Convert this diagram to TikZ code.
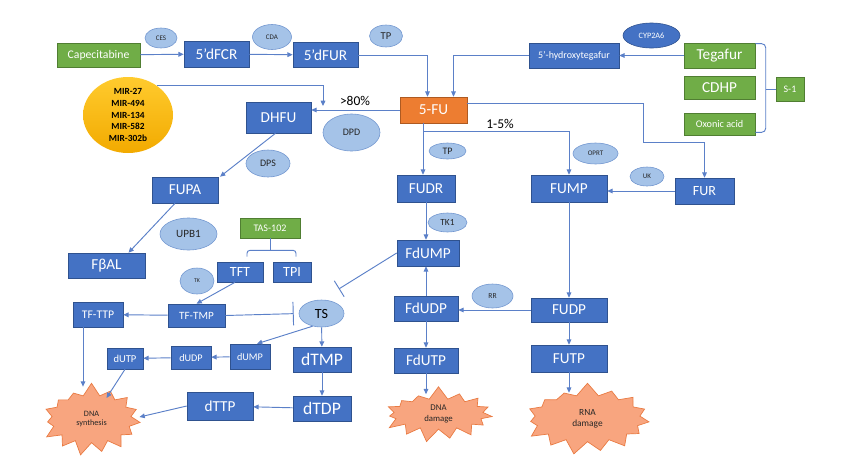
\documentclass[tikz,border=0pt]{standalone}
\usepackage{fontspec}
\setmainfont{Carlito}
\usetikzlibrary{arrows.meta,shapes.geometric,shapes.symbols,calc}
\definecolor{boxblue}{HTML}{4472C4}
\definecolor{boxedge}{HTML}{2F528F}
\definecolor{leafgreen}{HTML}{70AD47}
\definecolor{leafedge}{HTML}{507E32}
\definecolor{fuorange}{HTML}{ED7D31}
\definecolor{fuedge}{HTML}{AE5A21}
\definecolor{enzfill}{HTML}{A5C3E8}
\definecolor{enzedge}{HTML}{7397D0}
\definecolor{wireblue}{HTML}{5B80C8}
\definecolor{burstfill}{HTML}{F8A57F}
\definecolor{burstedge}{HTML}{E97B43}
\definecolor{mirtop}{HTML}{FFCB2E}
\definecolor{mirbot}{HTML}{F2AA00}
\newlength{\px}
\setlength{\px}{0.03cm}

\begin{document}
\begin{tikzpicture}[
    x=0.03cm, y=-0.03cm,
    drug/.style={rectangle, draw=boxedge, fill=boxblue, text=white, line width=0.5pt, inner sep=0pt},
    source/.style={drug, draw=leafedge, fill=leafgreen},
    enzyme/.style={ellipse, draw=enzedge, fill=enzfill, text=black!85, line width=0.5pt, inner sep=0pt},
    burst/.style={starburst, starburst points=15, starburst point height=0.4cm, random starburst=7,
        draw=burstedge, fill=burstfill, line width=0.6pt, inner sep=0pt, align=center, text=black!85},
    wire/.style={draw=wireblue, line width=0.8pt},
    flow/.style={wire, -{Triangle[length=4.5pt, width=4pt]}},
    block/.style={wire, -{Bar[width=#1]}},
    pct/.style={font=\fontsize{11.5}{13}\selectfont, text=black},
]
    \useasboundingbox (0,0) rectangle (850,472);

    % metabolites
    \foreach \nm/\x/\y/\w/\h/\fs/\txt in {%
        dfcr/216.5/54/65/26/13/5’dFCR,%
        dfur/325.5/55/65/25/13/5’dFUR,%
        hydroxy/574/55.5/90/25/8.5/5’-hydroxytegafur,%
        dhfu/278.5/117.5/65/31/13/DHFU,%
        fupa/185/190/66/26/13/FUPA,%
        fbal/106.5/265.5/77/25/13/FβAL,%
        tft/240/272/46/20/12/TFT,%
        tpi/292/272/38/20/12/TPI,%
        tfttp/98/314.5/50/25/10/TF-TTP,%
        tftmp/196.5/315.5/57/23/9.5/TF-TMP,%
        dump/250/356.5/40/25/8.7/dUMP,%
        dudp/191/357.5/40/23/8.7/dUDP,%
        dutp/125/358.5/36/21/9/dUTP,%
        dtmp/322/359.5/58/25/15/dTMP,%
        dtdp/322/408.5/58/25/15/dTDP,%
        dttp/220/406/66/28/13/dTTP,%
        fudr/426/188.5/58/27/13/FUDR,%
        fdump/428/253/62/26/13/FdUMP,%
        fdudp/426/308.5/64/25/13/FdUDP,%
        fdutp/426/360.5/64/25/13/FdUTP,%
        fump/569/188.5/76/27/13/FUMP,%
        fudp/569/310/76/24/13/FUDP,%
        futp/569/358.5/76/27/13/FUTP,%
        fur/704.5/191/59/26/12/FUR%
    }{
        \node[drug, minimum width=\w\px, minimum height=\h\px, font=\fontsize{\fs}{\fs}\selectfont] (\nm) at (\x,\y) {\txt};
    }

    % prodrugs and combinations
    \foreach \nm/\x/\y/\w/\h/\fs/\txt in {%
        cape/98.5/55/83/24/10/Capecitabine,%
        teg/719.5/55.5/71/25/13/Tegafur,%
        cdhp/719.5/87.5/71/23/13/CDHP,%
        oxo/719.5/124/71/22/8.7/Oxonic acid,%
        sone/790/89/28/24/8.5/S-1,%
        tas/270/228/60/20/8.6/TAS-102%
    }{
        \node[source, minimum width=\w\px, minimum height=\h\px, font=\fontsize{\fs}{\fs}\selectfont] (\nm) at (\x,\y) {\txt};
    }
    \node[drug, draw=fuedge, fill=fuorange, minimum width=67\px, minimum height=26\px,
        font=\fontsize{13}{13}\selectfont] (fu) at (433.5,110) {5-FU};

    % enzymes
    \foreach \nm/\x/\y/\w/\h/\fs/\txt in {%
        ces/161/38/32/20/6/CES,%
        cda/272/37/39/25/6/CDA,%
        tpa/386/36/33/22/9/TP,%
        dpd/351.5/132.5/57/37/8.5/DPD,%
        dps/268/163.5/44/27/8.5/DPS,%
        upb/188.5/234/57/32/9.5/UPB1,%
        tk/197/281/34/26/5/TK,%
        tpb/447.5/151/37/16/8.5/TP,%
        tkone/447.5/222.5/39/19/8/TK1,%
        oprt/595.5/153.5/45/21/6/OPRT,%
        uk/647/176.5/34/19/6/UK,%
        rr/492.5/296/41/24/6.5/RR%
    }{
        \node[enzyme, minimum width=\w\px, minimum height=\h\px, font=\fontsize{\fs}{\fs}\selectfont] (\nm) at (\x,\y) {\txt};
    }
    \node[enzyme, draw=boxedge, fill=boxblue, text=white, minimum width=57\px, minimum height=25\px,
        font=\fontsize{7}{7}\selectfont] (cyp) at (651.5,35.5) {CYP2A6};
    \node[enzyme, text=black, minimum width=45\px, minimum height=27\px,
        font=\fontsize{12}{12}\selectfont] (ts) at (321.5,313.5) {TS};

    \node[ellipse, top color=mirtop, bottom color=mirbot, minimum width=90\px, minimum height=76\px,
        inner sep=0pt, align=center, font=\fontsize{8}{10}\selectfont\bfseries] (mir) at (128,115)
        {MIR-27\\MIR-494\\MIR-134\\MIR-582\\MIR-302b};

    \node[pct] (major) at (355,101) {>80\%};
    \node[pct] (minor) at (500,124) {1-5\%};

    % outcomes
    \node[burst, minimum width=106\px, minimum height=74\px, font=\fontsize{7}{8.5}\selectfont] (dnasyn) at (91.5,419) {DNA\\synthesis};
    \node[burst, minimum width=116\px, minimum height=57\px, font=\fontsize{7.5}{9}\selectfont] (dnadam) at (438.5,414) {DNA\\damage};
    \node[burst, minimum width=132\px, minimum height=73\px, font=\fontsize{8}{9.5}\selectfont] (rnadam) at (587.5,418.5) {RNA\\damage};

    % activation of the prodrugs
    \draw[flow] (cape) -- (dfcr);
    \draw[flow] (dfcr) -- (dfur);
    \draw[flow] (dfur.east) -| ([xshift=-6\px]fu.north);
    \draw[flow] (teg) -- (hydroxy);
    \draw[flow] (hydroxy.west) -| ([xshift=20\px]fu.north);
    \coordinate (sbrace) at ($(sone.west)+(-10,0)$);
    \draw[wire, rounded corners=4\px] ([yshift=-1\px]teg.north east) -| (sbrace) |- ([yshift=3\px]oxo.south east);
    \draw[wire] (sbrace) -- (sone.west);

    % catabolism
    \coordinate (mirhit) at (323,106);
    \draw[flow] (fu.west) -- (fu.west -| dhfu.east);
    \draw[flow] (mir.45) -| (mirhit);
    \draw[flow] ([xshift=-3\px]dhfu.south) -- ([xshift=35\px]fupa.north);
    \draw[flow] ([xshift=-10\px]fupa.south) -- ([xshift=22\px]fbal.north);

    % anabolism
    \coordinate (fork) at (423,131);
    \draw[flow] (fu.south -| fork) -- (fudr.north -| fork);
    \draw[flow] (fork) -| (fump.north);
    \draw[flow] ([yshift=7\px]fu.east) -| (643,142) -| (fur.north);
    \draw[flow] (fur.west) -- (fur.west -| fump.east);
    \draw[flow] (fudr.south) -- (fudr.south |- fdump.north);
    \draw[flow] (fdudp.north) -- (fdudp.north |- fdump.south);
    \draw[flow] (fdudp) -- (fdutp);
    \draw[flow] (fdutp.south) -- ($(fdutp.south |- dnadam.north)+(0,8)$);
    \draw[flow] (fump) -- (fudp);
    \draw[flow] (fudp.west) -- (fudp.west -| fdudp.east);
    \draw[flow] (fudp) -- (futp);
    \draw[flow] (futp.south) -- ($(futp.south |- rnadam.north)+(0,10)$);

    % thymidylate synthase
    \draw[block=16pt] (fdump.west) -- ($(fdump.west)!0.77!(ts.north)$);
    \coordinate (tbrace) at ($(tas.south)+(0,12)$);
    \draw[wire, rounded corners=3\px] ([shift={(7,-5)}]tft.north) |- (tbrace) -| ([shift={(4,-5)}]tpi.north);
    \draw[wire] (tas.south) -- (tbrace);
    \draw[flow] ([xshift=-5\px]tft.south) -- (tftmp.north);
    \draw[block=20pt, shorten >=5\px] (tftmp.east) -- (ts.west);
    \draw[flow] (tftmp) -- (tfttp);
    \draw[flow] ([xshift=-15\px]tfttp.south) -- ($([xshift=-15\px]tfttp.south |- dnasyn.north)+(0,4)$);
    \draw[flow] (ts.235) -- ([xshift=7\px]dump.north);
    \draw[flow] (ts) -- (dtmp);
    \draw[flow] (dump) -- (dudp);
    \draw[flow] (dudp) -- (dutp);
    \draw[flow] (dutp.south) -- ($(dnasyn.center)+(15,-21)$);
    \draw[flow] (dtmp) -- (dtdp);
    \draw[flow] (dtdp) -- (dttp);
    \draw[flow] (dttp.west) -- ($(dnasyn.center)+(48,-2)$);
\end{tikzpicture}
\end{document}
